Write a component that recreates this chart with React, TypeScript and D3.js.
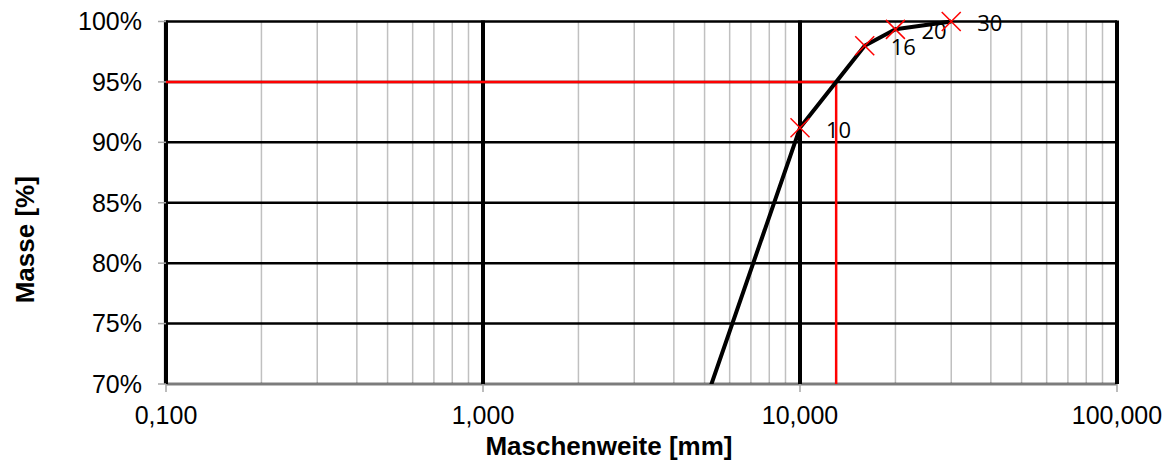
import React from "react";
import * as d3 from "d3";

// Sieve curve: mesh size [mm] and cumulative passing mass [%]
const sieveSizes = [4, 10, 16, 20, 30];
const passing = [61.0, 91.2, 98.0, 99.35, 100];
const sieveLabels = ["4", "10", "16", "20", "30"];

const yTicks = [70, 75, 80, 85, 90, 95, 100];
const xDecades = [0.1, 1, 10, 100];
const xTickLabels = ["0,100", "1,000", "10,000", "100,000"];
const targetPassing = 95;

const W = 1173;
const H = 462;
const M = { left: 166, right: 1117, top: 21.5, bottom: 384 };

export default function App() {
  const x = d3.scaleLog().domain([0.1, 100]).range([M.left, M.right]);
  const y = d3.scaleLinear().domain([70, 100]).range([M.bottom, M.top]);

  // minor grid: 2..9 within each decade
  const minor: number[] = [];
  for (let d = 0; d < 3; d++) {
    for (let k = 2; k <= 9; k++) minor.push(xDecades[d] * k);
  }

  // mesh size at which the curve reaches the target passing (log interpolation)
  let d95 = NaN;
  for (let i = 0; i < passing.length - 1; i++) {
    if (passing[i] <= targetPassing && passing[i + 1] >= targetPassing) {
      const t = (targetPassing - passing[i]) / (passing[i + 1] - passing[i]);
      const l0 = Math.log10(sieveSizes[i]);
      const l1 = Math.log10(sieveSizes[i + 1]);
      d95 = Math.pow(10, l0 + t * (l1 - l0));
      break;
    }
  }

  const line = d3
    .line<number>()
    .x((_, i) => x(sieveSizes[i]))
    .y((v) => y(v));

  const inside = sieveSizes
    .map((s, i) => ({ s, v: passing[i], label: sieveLabels[i] }))
    .filter((p) => p.v >= 70 && p.v <= 100);

  const axisFont = "'Liberation Sans', Arial, sans-serif";
  const labelFont = "'Open Sans', sans-serif";
  const mk = 9.5;

  return (
    <svg width={W} height={H} style={{ position: "absolute", left: 0, top: 0 }}>
      <defs>
        <clipPath id="plotClip">
          <rect x={M.left} y={M.top - 12} width={M.right - M.left + 12} height={M.bottom - M.top + 12} />
        </clipPath>
      </defs>
      <rect width={W} height={H} fill="#fff" />

      {/* minor vertical grid */}
      {minor.map((m) => (
        <line key={"mn" + m} x1={x(m)} x2={x(m)} y1={M.top} y2={M.bottom} stroke="#c0c0c0" strokeWidth={1.5} />
      ))}

      {/* horizontal major grid */}
      {yTicks.map((t) => (
        <line key={"hy" + t} x1={M.left} x2={M.right} y1={y(t)} y2={y(t)} stroke="#000" strokeWidth={2.5} />
      ))}

      {/* axis lines */}
      <line x1={M.left} x2={M.right} y1={M.bottom} y2={M.bottom} stroke="#a6a6a6" strokeWidth={1.5} />
      <line x1={M.left - 1.5} x2={M.left - 1.5} y1={M.top} y2={M.bottom} stroke="#a6a6a6" strokeWidth={1.5} />

      {/* decade lines */}
      {xDecades.map((d) => (
        <line key={"dx" + d} x1={x(d)} x2={x(d)} y1={M.top - 1} y2={M.bottom} stroke="#000" strokeWidth={4} />
      ))}

      {/* ticks */}
      {yTicks.map((t) => (
        <line key={"ty" + t} x1={M.left - 8} x2={M.left} y1={y(t)} y2={y(t)} stroke="#a6a6a6" strokeWidth={1.5} />
      ))}
      {xDecades.map((d) => (
        <line key={"tx" + d} x1={x(d)} x2={x(d)} y1={M.bottom} y2={M.bottom + 8} stroke="#a6a6a6" strokeWidth={1.5} />
      ))}

      {/* target lines */}
      <line x1={M.left} x2={x(d95)} y1={y(targetPassing)} y2={y(targetPassing)} stroke="#ff0000" strokeWidth={2.5} />
      <line x1={x(d95)} x2={x(d95)} y1={y(targetPassing)} y2={M.bottom} stroke="#ff0000" strokeWidth={2.5} />

      {/* sieve curve */}
      <g clipPath="url(#plotClip)">
        <path d={line(passing) || ""} fill="none" stroke="#000" strokeWidth={4} strokeLinejoin="round" />
      </g>

      {/* markers and labels */}
      {inside.map((p) => {
        const cx = x(p.s);
        const cy = y(p.v);
        return (
          <g key={"pt" + p.s}>
            <line x1={cx - mk} x2={cx + mk} y1={cy - mk} y2={cy + mk} stroke="#ff0000" strokeWidth={1.5} />
            <line x1={cx - mk} x2={cx + mk} y1={cy + mk} y2={cy - mk} stroke="#ff0000" strokeWidth={1.5} />
            <text x={cx + 26} y={cy + 2} dy="0.35em" fontFamily={labelFont} fontSize={22} fill="#000">
              {p.label}
            </text>
          </g>
        );
      })}

      {/* y tick labels */}
      {yTicks.map((t) => (
        <text key={"ly" + t} x={142} y={y(t)} dy="0.35em" textAnchor="end" fontFamily={axisFont} fontSize={25} fill="#000">
          {t + "%"}
        </text>
      ))}

      {/* x tick labels */}
      {xDecades.map((d, i) => (
        <text key={"lx" + d} x={x(d)} y={424} textAnchor="middle" fontFamily={axisFont} fontSize={25} fill="#000">
          {xTickLabels[i]}
        </text>
      ))}

      {/* axis titles */}
      <text x={609} y={455} textAnchor="middle" fontFamily={axisFont} fontSize={26} fontWeight="bold" fill="#000">
        Maschenweite [mm]
      </text>
      <text
        transform={`translate(34, ${(M.top + M.bottom) / 2 + 37}) rotate(-90)`}
        textAnchor="middle"
        fontFamily={axisFont}
        fontSize={26}
        fontWeight="bold"
        fill="#000"
      >
        Masse [%]
      </text>
    </svg>
  );
}
